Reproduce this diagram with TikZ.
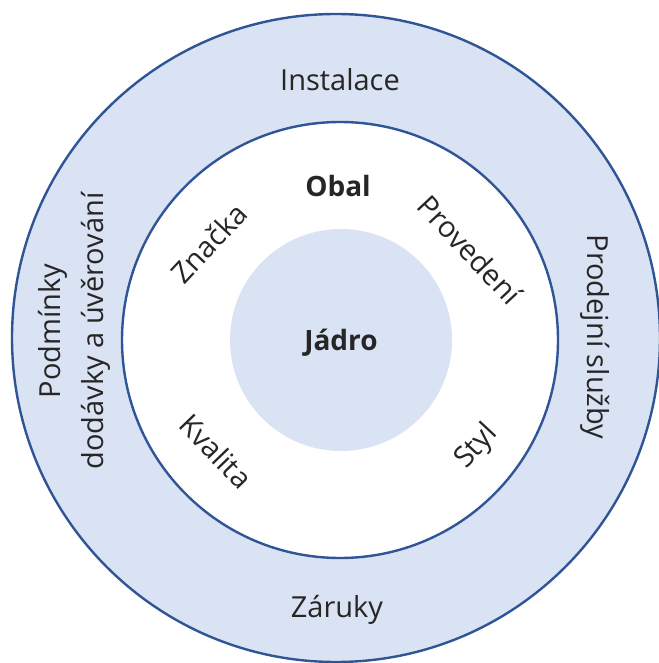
\documentclass[tikz,border=0pt]{standalone}
\usepackage{fontspec}
\setmainfont{Open Sans}
\usepackage{tikz}
\definecolor{ringfill}{HTML}{DAE3F3}
\definecolor{ringline}{HTML}{2F5597}
\tikzset{ring/.style={draw=ringline,line width=2.4pt,circle,inner sep=0pt},
         lbl/.style={font=\fontsize{29}{34}\selectfont,text=black!85,inner sep=0pt},
         boldlbl/.style={lbl,font=\fontsize{28}{32}\selectfont\bfseries}}

\begin{document}
\begin{tikzpicture}[x=1pt,y=-1pt]
            \useasboundingbox (0,0) rectangle (658,663);
            % kruhy
            \node[ring,fill=ringfill,minimum size=648pt] (outer) at (336,338) {};
            \node[ring,fill=white,minimum size=436pt] (inner) at (340,340) {};
            \node[circle,fill=ringfill,minimum size=222pt,inner sep=0pt] (core) at (341,340) {};
            % vnejsi prstenec
            \node[lbl] (instal) at (340,80) {Instalace};
            \node[lbl] (zaruky) at (337,610) {Záruky};
            \node[lbl,rotate=90,align=center,font=\fontsize{29}{43}\selectfont] (podm) at (74,331) {Podmínky\\dodávky a úvěrování};
            \node[lbl,rotate=-90] (prodej) at (595,337) {Prodejní služby};
            % obal
            \node[boldlbl] (obal) at (338,186) {Obal};
            \node[lbl,rotate=47] (znacka) at (209,243) {Značka};
            \node[lbl,rotate=-47] (proved) at (470,250) {Provedení};
            \node[lbl,rotate=-46] (kval) at (216,451) {Kvalita};
            \node[lbl,rotate=47] (styl) at (477,447) {Styl};
            % jadro
            \node[boldlbl] (jadro) at (341,343) {Jádro};
\end{tikzpicture}
\end{document}
